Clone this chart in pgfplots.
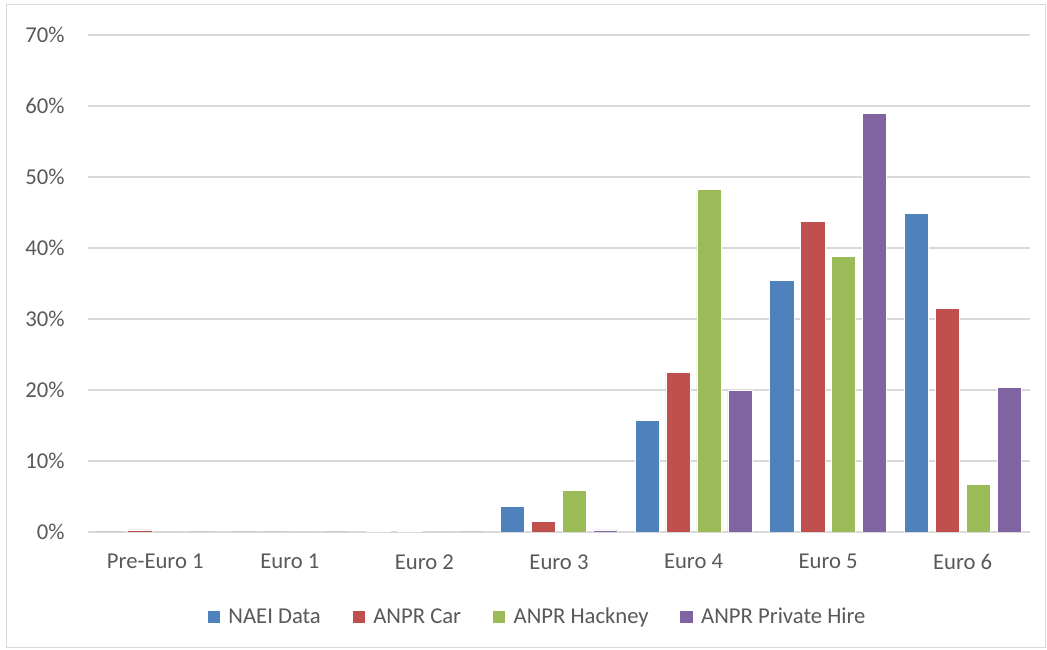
\documentclass[border=0pt]{standalone}
\usepackage{fontspec}
\setmainfont{Carlito}
\usepackage{pgfplots}
\pgfplotsset{compat=1.18}

\definecolor{naei}{HTML}{4F81BD}
\definecolor{car}{HTML}{C0504D}
\definecolor{hack}{HTML}{9BBB59}
\definecolor{phire}{HTML}{8064A2}
\definecolor{gridgray}{HTML}{D9D9D9}
\definecolor{txt}{HTML}{595959}

\begin{document}
\begin{tikzpicture}[x=0.75pt,y=0.75pt]
% canvas 1047 x 650 px, axis box lower-left at px (88,532)
\path[use as bounding box] (-88,-118) rectangle (959,532);
\draw[gridgray, line width=0.75pt] (-81,-116) rectangle (957,527);
\begin{axis}[
    at={(0,0)}, anchor=south west,
    scale only axis,
    width=706.5pt, height=372.75pt,
    ybar, bar width=0.18,
    xmin=-0.5, xmax=6.5,
    ymin=0, ymax=70,
    xtick={0,...,6},
    xticklabels={Pre-Euro 1, Euro 1, Euro 2, Euro 3, Euro 4, Euro 5, Euro 6},
    ytick={0,10,...,70},
    yticklabel={\pgfmathprintnumber{\tick}\%},
    /pgf/number format/assume math mode=true,
    axis line style={draw=none},
    axis x line*=bottom,
    x axis line style={draw=gridgray, line width=1.1pt},
    tick style={draw=none},
    ymajorgrids, grid style={gridgray, line width=1.1pt},
    tick label style={font=\fontsize{17}{19}\selectfont, text=txt},
    xticklabel style={yshift=-9pt},
    yticklabel style={xshift=-14pt},
    legend style={at={(0.477,-0.171)}, anchor=center, draw=none,
        font=\fontsize{17}{19}\selectfont, text=txt,
        legend columns=4,
        /tikz/every odd column/.append style={column sep=4pt},
        /tikz/every even column/.append style={column sep=21pt}},
    legend image code/.code={\fill[#1] (0pt,-5pt) rectangle (10pt,5pt);},
    every axis plot/.append style={draw=white, line width=0.4pt},
  ]
\addplot[fill=naei, bar shift=-0.345] coordinates {(0,0) (1,0) (2,0.1) (3,3.6) (4,15.7) (5,35.4) (6,44.9)};
\addplot[fill=car, bar shift=-0.115] coordinates {(0,0.3) (1,0) (2,0.1) (3,1.5) (4,22.5) (5,43.7) (6,31.5)};
\addplot[fill=hack, bar shift=0.115] coordinates {(0,0) (1,0) (2,0) (3,5.9) (4,48.3) (5,38.8) (6,6.7)};
\addplot[fill=phire, bar shift=0.345] coordinates {(0,0) (1,0) (2,0) (3,0.3) (4,20.0) (5,59.0) (6,20.4)};
\legend{NAEI Data, ANPR Car, ANPR Hackney, ANPR Private Hire}
\end{axis}
\end{tikzpicture}
\end{document}
